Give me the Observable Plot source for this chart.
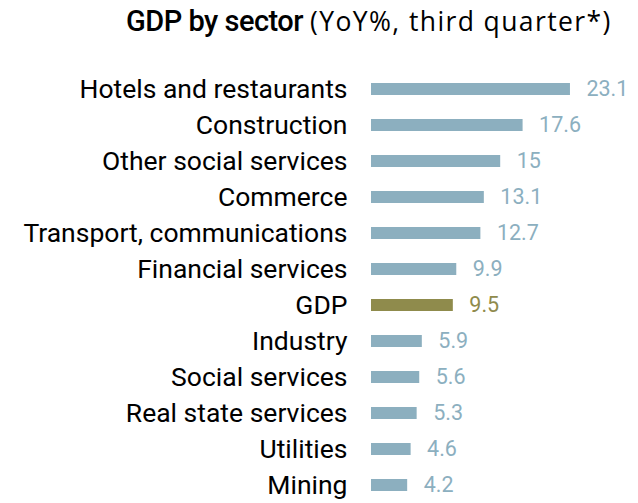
<!DOCTYPE html>
<html><head><meta charset="utf-8">
<script src="https://cdn.jsdelivr.net/npm/d3@7"></script>
<script src="https://cdn.jsdelivr.net/npm/@observablehq/plot@0.6"></script>
<style>
body{margin:0;background:#fff;font-family:Roboto,"Noto Sans",sans-serif;}
#title{height:62px;box-sizing:border-box;padding-top:3px;padding-left:126px;white-space:nowrap;color:#000;}
#title b{font-size:29px;font-weight:500;letter-spacing:-0.5px;}
#title span{font-family:"Open Sans",sans-serif;font-size:26.5px;font-weight:400;letter-spacing:1.4px;margin-left:3px;}
</style></head>
<body>
<div id="title"><b>GDP by sector</b> <span>(YoY%, third quarter*)</span></div>
<div id="chart"></div>
<script>
const sectors = ["Hotels and restaurants","Construction","Other social services","Commerce","Transport, communications","Financial services","GDP","Industry","Social services","Real state services","Utilities","Mining"];
const values = [23.1,17.6,15,13.1,12.7,9.9,9.5,5.9,5.6,5.3,4.6,4.2];
const data = sectors.map((s,i)=>({sector:s,value:values[i],gdp:s==="GDP"}));
const blue="#8cafbf", olive="#8f8b4c";
const chart = Plot.plot({
  width:638, height:441,
  marginLeft:371, marginRight:0, marginTop:9, marginBottom:0,
  style:{fontFamily:"Roboto, sans-serif", fontSize:"26.5px", color:"#000", background:"#fff"},
  x:{domain:[0,31], axis:null},
  y:{domain:sectors, padding:0, label:null, tickSize:0, tickPadding:24},
  marks:[
    Plot.barX(data,{x:"value",y:"sector",fill:d=>d.gdp?olive:blue,insetTop:12,insetBottom:12}),
    Plot.text(data,{x:"value",y:"sector",text:d=>String(d.value),dx:16,textAnchor:"start",fill:d=>d.gdp?olive:blue,fontSize:21.5}),
    Plot.ruleX([0],{stroke:"#d0d0d0",strokeWidth:1.5,y1:sectors[0],y2:sectors[sectors.length-1],insetTop:-19,insetBottom:-20})
  ]
});
document.getElementById("chart").appendChild(chart);
</script>
</body></html>
